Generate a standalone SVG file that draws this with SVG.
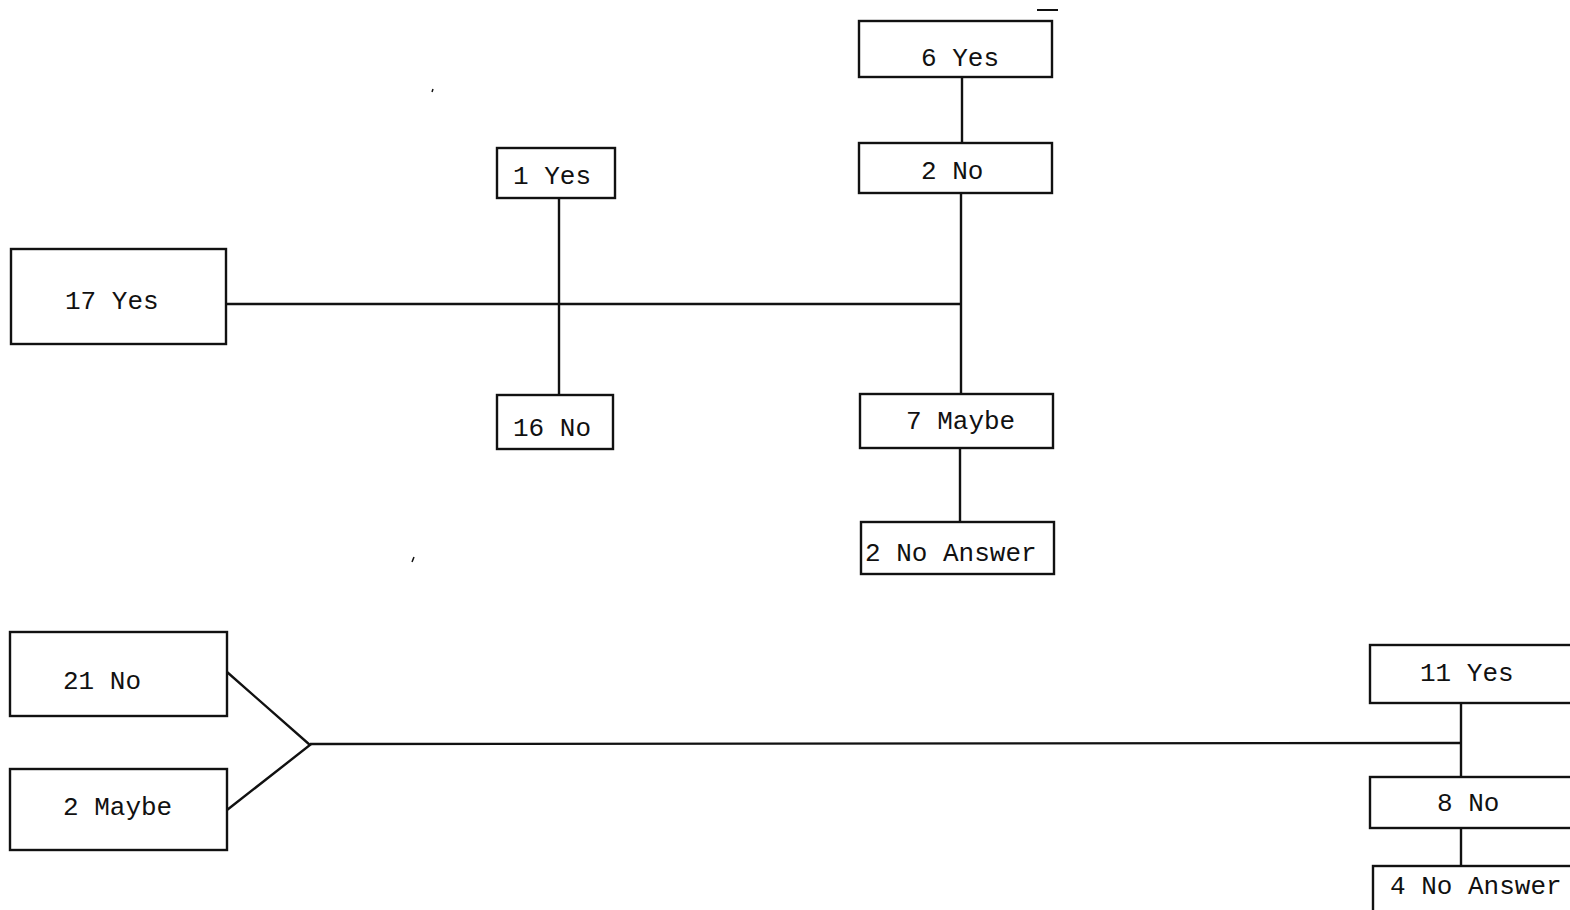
<svg xmlns="http://www.w3.org/2000/svg" width="1570" height="910" viewBox="0 0 1570 910">
<style>
.box{fill:#fff;stroke:#111;stroke-width:2.4}
.t{font-family:"Liberation Mono","DejaVu Sans Mono",monospace;font-size:26px;fill:#111}
.c{stroke:#111;stroke-width:2.4;fill:none}
</style>
<rect width="1570" height="910" fill="#fff"/>
<g id="connectors">
<line class="c" x1="226" y1="304" x2="961" y2="304"/>
<line class="c" x1="559" y1="198" x2="559" y2="395"/>
<line class="c" x1="962" y1="77" x2="962" y2="143"/>
<line class="c" x1="961" y1="193" x2="961" y2="394"/>
<line class="c" x1="960" y1="448" x2="960" y2="522"/>
<polyline class="c" points="227,672 310,745 227,810"/>
<line class="c" x1="310" y1="744" x2="1461" y2="743"/>
<line class="c" x1="1461" y1="703" x2="1461" y2="777"/>
<line class="c" x1="1461" y1="828" x2="1461" y2="866"/>
</g>
<g id="n17yes"><rect class="box" x="11" y="249" width="215" height="95"/><text class="t" x="65" y="309">17 Yes</text></g>
<g id="n1yes"><rect class="box" x="497" y="148" width="118" height="50"/><text class="t" x="513" y="184">1 Yes</text></g>
<g id="n16no"><rect class="box" x="497" y="395" width="116" height="54"/><text class="t" x="513" y="436">16 No</text></g>
<g id="n6yes"><rect class="box" x="859" y="21" width="193" height="56"/><text class="t" x="921" y="66">6 Yes</text></g>
<g id="n2no"><rect class="box" x="859" y="143" width="193" height="50"/><text class="t" x="921" y="179">2 No</text></g>
<g id="n7maybe"><rect class="box" x="860" y="394" width="193" height="54"/><text class="t" x="906" y="429">7 Maybe</text></g>
<g id="n2noanswer"><rect class="box" x="861" y="522" width="193" height="52"/><text class="t" x="865" y="561">2 No Answer</text></g>
<g id="n21no"><rect class="box" x="10" y="632" width="217" height="84"/><text class="t" x="63" y="689">21 No</text></g>
<g id="n2maybe"><rect class="box" x="10" y="769" width="217" height="81"/><text class="t" x="63" y="815">2 Maybe</text></g>
<g id="n11yes"><rect class="box" x="1370" y="645" width="210" height="58"/><text class="t" x="1420" y="681">11 Yes</text></g>
<g id="n8no"><rect class="box" x="1370" y="777" width="210" height="51"/><text class="t" x="1437" y="811">8 No</text></g>
<g id="n4noanswer"><rect class="box" x="1373" y="866" width="207" height="50"/><text class="t" x="1390" y="894">4 No Answer</text></g>
<line x1="1037" y1="10" x2="1058" y2="10" stroke="#111" stroke-width="2"/>
<line x1="433" y1="89" x2="432" y2="92" stroke="#111" stroke-width="1.5"/>
<line x1="414" y1="557" x2="412" y2="562" stroke="#111" stroke-width="1.5"/>
</svg>
